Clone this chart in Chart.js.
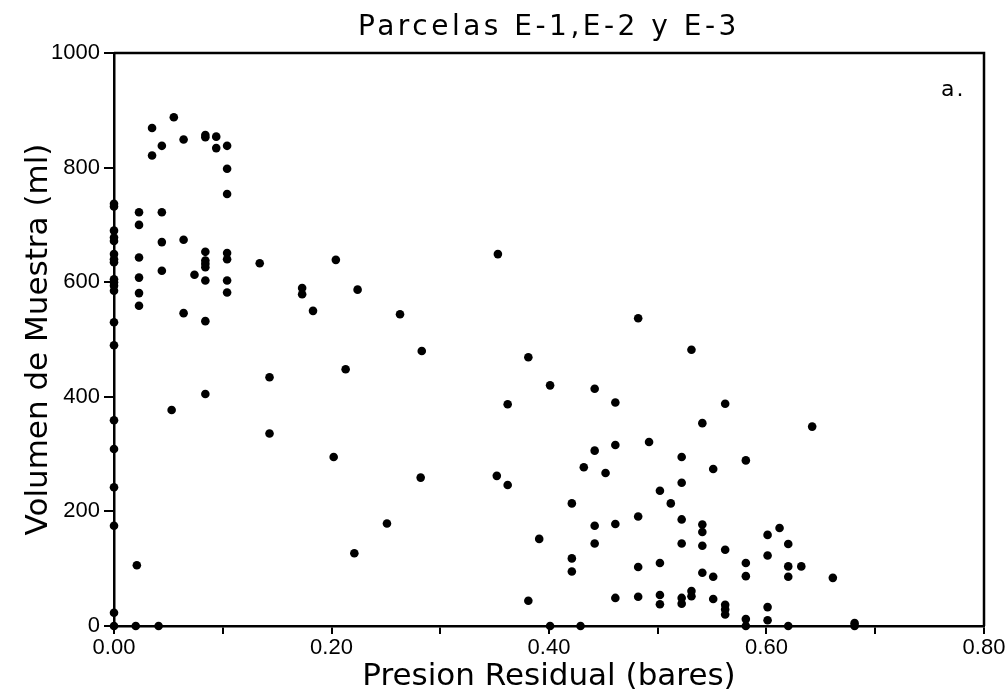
<!DOCTYPE html>
<html>
<head>
<meta charset="utf-8">
<script src="https://cdn.jsdelivr.net/npm/chart.js@4.4.1/dist/chart.umd.min.js"></script>
<style>
	html, body { margin: 0; padding: 0; background: #fff; }
</style>
</head>
<body>
<canvas id="myChart" width="1006" height="697"></canvas>
<script>
/* Data */
const presion = [
	0, 0, 0, 0, 0, 0, 0, 0, 0, 0, 0, 0, 0, 0, 0, 0, 0, 0, 0, 0,
	0.023, 0.023, 0.023, 0.023, 0.023, 0.023, 0.021, 0.020,
	0.035, 0.035,
	0.044, 0.044, 0.044, 0.044, 0.041,
	0.055, 0.053,
	0.064, 0.064, 0.064,
	0.074,
	0.084, 0.084, 0.084, 0.084, 0.084, 0.084, 0.084, 0.084, 0.084,
	0.094, 0.094,
	0.104, 0.104, 0.104, 0.104, 0.104, 0.104, 0.104,
	0.134, 0.143, 0.143, 0.173, 0.173, 0.183,
	0.204, 0.202, 0.213, 0.221, 0.224, 0.251, 0.263, 0.283, 0.282,
	0.353, 0.352, 0.362, 0.362, 0.381, 0.381, 0.391, 0.401, 0.401,
	0.421, 0.421, 0.421, 0.429, 0.432,
	0.442, 0.442, 0.442, 0.442, 0.452,
	0.461, 0.461, 0.461, 0.461,
	0.482, 0.482, 0.482, 0.482, 0.492,
	0.502, 0.502, 0.502, 0.502, 0.512,
	0.522, 0.522, 0.522, 0.522, 0.522, 0.522,
	0.531, 0.531, 0.531,
	0.541, 0.541, 0.541, 0.541, 0.541,
	0.551, 0.551, 0.551,
	0.562, 0.562, 0.562, 0.562, 0.562,
	0.581, 0.581, 0.581, 0.581, 0.581,
	0.601, 0.601, 0.601, 0.601, 0.612,
	0.620, 0.620, 0.620, 0.620, 0.632, 0.642, 0.661, 0.681, 0.681,
]

const volumen = [
	737, 732, 690, 678, 672, 649, 640, 635, 605, 600, 594, 585, 530, 490, 359, 309, 242, 175, 23, 0,
	722, 700, 643, 608, 581, 559, 106, 0,
	869, 821,
	838, 722, 670, 620, 0,
	888, 377,
	849, 674, 546,
	613,
	857, 853, 653, 638, 632, 626, 603, 532, 405,
	854, 834,
	838, 798, 754, 651, 640, 603, 582,
	633, 434, 336, 590, 579, 550,
	639, 295, 448, 127, 587, 179, 544, 480, 259,
	649, 262, 387, 246, 469, 44, 152, 420, 0,
	214, 118, 95, 0, 277,
	414, 306, 175, 144, 267,
	390, 316, 178, 49,
	537, 191, 103, 51, 321,
	236, 110, 54, 38, 214,
	295, 250, 186, 144, 49, 39,
	482, 61, 52,
	354, 177, 164, 140, 93,
	274, 86, 47,
	388, 133, 37, 29, 20,
	289, 110, 87, 12, 0,
	159, 123, 33, 10, 171,
	143, 104, 86, 0, 104, 348, 84, 5, 0,
]

const xTickLabels = ['0.00', '0.20', '0.40', '0.60', '0.80']
const yTicks = [0, 200, 400, 600, 800, 1000]

const titulo = 'Parcelas E-1,E-2 y E-3'
const panel = 'a.'

/* Frame + title + panel letter */
const framePlugin = {
	id: 'frame',
	afterDraw(chart) {
		const { ctx, chartArea: a } = chart
		ctx.save()
		ctx.strokeStyle = '#000'
		ctx.lineWidth = 2.5
		ctx.beginPath()
		ctx.moveTo(a.left, a.top)
		ctx.lineTo(a.right, a.top)
		ctx.lineTo(a.right, a.bottom)
		ctx.stroke()

		ctx.fillStyle = '#000'
		ctx.textBaseline = 'alphabetic'
		ctx.textAlign = 'center'
		ctx.font = '28px "DejaVu Sans"'
		ctx.letterSpacing = '3.5px'
		ctx.fillText(titulo, (a.left + a.right) / 2, 35)

		ctx.textAlign = 'left'
		ctx.letterSpacing = '2px'
		ctx.font = '22px "DejaVu Sans"'
		ctx.fillText(panel, 941, 96)
		ctx.restore()
	},
}

const points = presion.map((x, i) => ({ x: x, y: volumen[i] }))

const ctx = document.getElementById('myChart')

new Chart(ctx, {
	type: 'scatter',
	data: {
		datasets: [
			{
				data: points,
				backgroundColor: '#000',
				borderWidth: 0,
				pointRadius: 4.3,
				pointHoverRadius: 4.3,
				clip: false,
			},
		],
	},
	options: {
		responsive: false,
		animation: false,
		layout: {
			padding: { top: 53, right: 22, left: 0, bottom: 0 },
		},
		plugins: {
			legend: { display: false },
			tooltip: { enabled: false },
		},
		scales: {
			x: {
				type: 'linear',
				min: 0,
				max: 0.8,
				afterFit(scale) {
					scale.height = 71
					scale.paddingLeft = 0
					scale.paddingRight = 0
				},
				border: { color: '#000', width: 2.5 },
				grid: {
					drawOnChartArea: false,
					drawTicks: true,
					tickLength: 8,
					color: '#000',
					lineWidth: 2,
				},
				ticks: {
					stepSize: 0.1,
					autoSkip: false,
					maxRotation: 0,
					padding: 1,
					color: '#000',
					font: { family: '"Liberation Sans"', size: 22 },
					callback: (v) => {
						const s = Number(v).toFixed(2)
						return xTickLabels.includes(s) ? s : ''
					},
				},
				title: {
					display: true,
					text: 'Presion Residual (bares)',
					color: '#000',
					font: { family: '"DejaVu Sans"', size: 31 },
					padding: { top: 0, bottom: 1 },
				},
			},
			y: {
				min: 0,
				max: 1000,
				afterFit(scale) {
					scale.width = 114
					scale.paddingTop = 0
					scale.paddingBottom = 0
				},
				afterBuildTicks(scale) {
					scale.ticks = yTicks.map((v) => ({ value: v }))
				},
				border: { color: '#000', width: 2.5 },
				grid: {
					drawOnChartArea: false,
					drawTicks: true,
					tickLength: 10,
					color: '#000',
					lineWidth: 2,
				},
				ticks: {
					padding: 4,
					color: '#000',
					font: { family: '"Liberation Sans"', size: 22 },
					callback: (v) => String(v),
				},
				title: {
					display: true,
					text: 'Volumen de Muestra (ml)',
					color: '#000',
					font: { family: '"DejaVu Sans"', size: 31 },
					padding: { top: 20, bottom: 0 },
				},
			},
		},
	},
	plugins: [framePlugin],
})
</script>
</body>
</html>
